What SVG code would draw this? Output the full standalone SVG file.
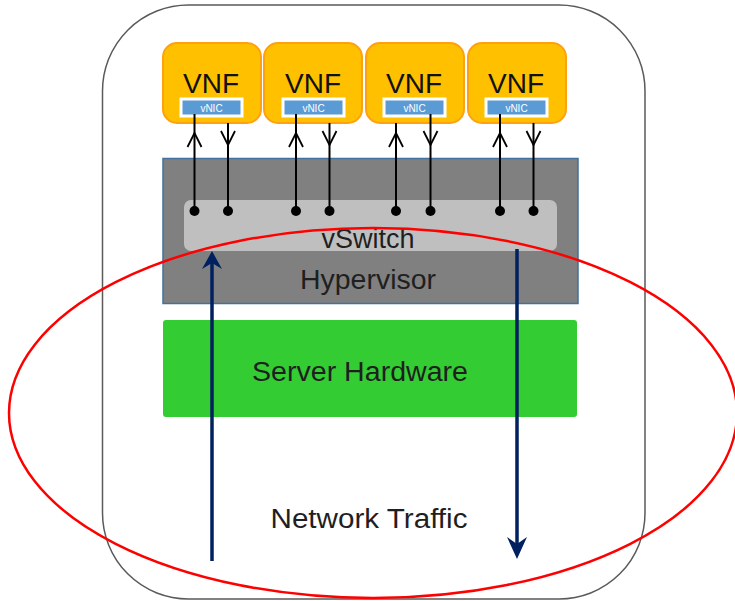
<svg xmlns="http://www.w3.org/2000/svg" width="735" height="601" viewBox="0 0 735 601">
  <style>
    .lbl { font-family: "Liberation Sans", Arial, sans-serif; fill: #1f1f1f; text-anchor: middle; }
    .vnf-box { fill: #FFC000; stroke: #FFA010; stroke-width: 2; }
    .vnf-txt { font-family: "Liberation Sans", Arial, sans-serif; font-size: 28px; fill: #111; text-anchor: middle; }
    .nic { fill: #5B9BD5; stroke: #FFFFFF; stroke-width: 3; }
    .nic-txt { font-family: "Liberation Sans", Arial, sans-serif; font-size: 10px; fill: #FFFFFF; text-anchor: middle; }
    .link { stroke: #000; stroke-width: 2; fill: none; }
    .chev { stroke: #000; stroke-width: 1.8; fill: none; }
    .port { fill: #000; }
    .flow { stroke: #002060; stroke-width: 3.5; fill: none; }
    .flow-head { fill: #002060; }
  </style>

  <!-- server enclosure -->
  <g id="server">
    <rect x="102.5" y="5" width="542.5" height="594" rx="86" ry="86" fill="#FFFFFF" stroke="#5a5a5a" stroke-width="1.5"/>
  </g>

  <!-- hypervisor layer with the virtual switch -->
  <g id="hypervisor">
    <rect x="163" y="158.5" width="415" height="145" fill="#808080" stroke="#41719C" stroke-width="1.5"/>
    <text class="lbl" x="368" y="289" font-size="27" textLength="136" lengthAdjust="spacingAndGlyphs">Hypervisor</text>
  </g>
  <g id="vswitch">
    <rect x="184" y="200" width="373" height="51" rx="7" fill="#BFBFBF"/>
    <text class="lbl" x="368" y="248" font-size="27">vSwitch</text>
  </g>

  <!-- physical hardware -->
  <g id="server-hardware">
    <rect x="163" y="320" width="414" height="97" rx="3" fill="#33CC33"/>
    <text class="lbl" x="360" y="381" font-size="27" textLength="216" lengthAdjust="spacingAndGlyphs">Server Hardware</text>
  </g>

  <!-- virtual network functions -->
  <g id="vnf1">
    <rect class="vnf-box" x="163" y="43" width="98" height="80" rx="14"/>
    <text class="vnf-txt" x="211" y="93">VNF</text>
    <rect class="nic" x="181" y="99" width="61" height="17"/>
    <text class="nic-txt" x="211.5" y="111.5">vNIC</text>
  </g>
  <g id="vnf2">
    <rect class="vnf-box" x="264" y="43" width="98" height="80" rx="14"/>
    <text class="vnf-txt" x="313" y="93">VNF</text>
    <rect class="nic" x="283" y="99" width="61" height="17"/>
    <text class="nic-txt" x="313.5" y="111.5">vNIC</text>
  </g>
  <g id="vnf3">
    <rect class="vnf-box" x="366" y="43" width="98" height="80" rx="14"/>
    <text class="vnf-txt" x="414" y="93">VNF</text>
    <rect class="nic" x="384" y="99" width="61" height="17"/>
    <text class="nic-txt" x="414.5" y="111.5">vNIC</text>
  </g>
  <g id="vnf4">
    <rect class="vnf-box" x="468" y="43" width="98" height="80" rx="14"/>
    <text class="vnf-txt" x="516" y="93">VNF</text>
    <rect class="nic" x="486" y="99" width="61" height="17"/>
    <text class="nic-txt" x="516.5" y="111.5">vNIC</text>
  </g>

  <!-- vNIC to vSwitch port links -->
  <g id="connectors">
    <defs>
      <path id="up-chev" d="M -7 14 L 0 0 L 7 14"/>
      <path id="down-chev" d="M -7 -14 L 0 0 L 7 -14"/>
    </defs>
    <!-- vnf1 -->
    <line class="link" x1="194.5" y1="114" x2="194.5" y2="211"/>
    <use href="#up-chev" class="chev" x="194.5" y="133"/>
    <line class="link" x1="228" y1="123" x2="228" y2="211"/>
    <use href="#down-chev" class="chev" x="228" y="145"/>
    <!-- vnf2 -->
    <line class="link" x1="296" y1="114" x2="296" y2="211"/>
    <use href="#up-chev" class="chev" x="296" y="133"/>
    <line class="link" x1="329.5" y1="123" x2="329.5" y2="211"/>
    <use href="#down-chev" class="chev" x="329.5" y="145"/>
    <!-- vnf3 -->
    <line class="link" x1="396" y1="123" x2="396" y2="211"/>
    <use href="#up-chev" class="chev" x="396" y="133"/>
    <line class="link" x1="430.5" y1="114" x2="430.5" y2="211"/>
    <use href="#down-chev" class="chev" x="430.5" y="145"/>
    <!-- vnf4 -->
    <line class="link" x1="500" y1="114" x2="500" y2="211"/>
    <use href="#up-chev" class="chev" x="500" y="133"/>
    <line class="link" x1="533.5" y1="123" x2="533.5" y2="211"/>
    <use href="#down-chev" class="chev" x="533.5" y="145"/>
    <!-- switch ports -->
    <circle class="port" cx="194.5" cy="211" r="5"/>
    <circle class="port" cx="228" cy="211" r="5"/>
    <circle class="port" cx="296" cy="211" r="5"/>
    <circle class="port" cx="329.5" cy="211" r="5"/>
    <circle class="port" cx="396" cy="211" r="5"/>
    <circle class="port" cx="430.5" cy="211" r="5"/>
    <circle class="port" cx="500" cy="211" r="5"/>
    <circle class="port" cx="533.5" cy="211" r="5"/>
  </g>

  <!-- traffic region -->
  <g id="traffic">
    <ellipse cx="373" cy="413" rx="364" ry="185" fill="none" stroke="#FF0000" stroke-width="2.5"/>
    <text class="lbl" x="369" y="528" font-size="27" textLength="197" lengthAdjust="spacingAndGlyphs">Network Traffic</text>
  </g>

  <!-- ingress / egress flows -->
  <g id="flows">
    <line class="flow" x1="212" y1="561" x2="212" y2="262"/>
    <path class="flow-head" d="M 212 251 L 222 269 L 212 263 L 202 269 Z"/>
    <line class="flow" x1="517" y1="249" x2="517" y2="548"/>
    <path class="flow-head" d="M 517 559 L 507 537 L 517 544 L 527 537 Z"/>
  </g>
</svg>
